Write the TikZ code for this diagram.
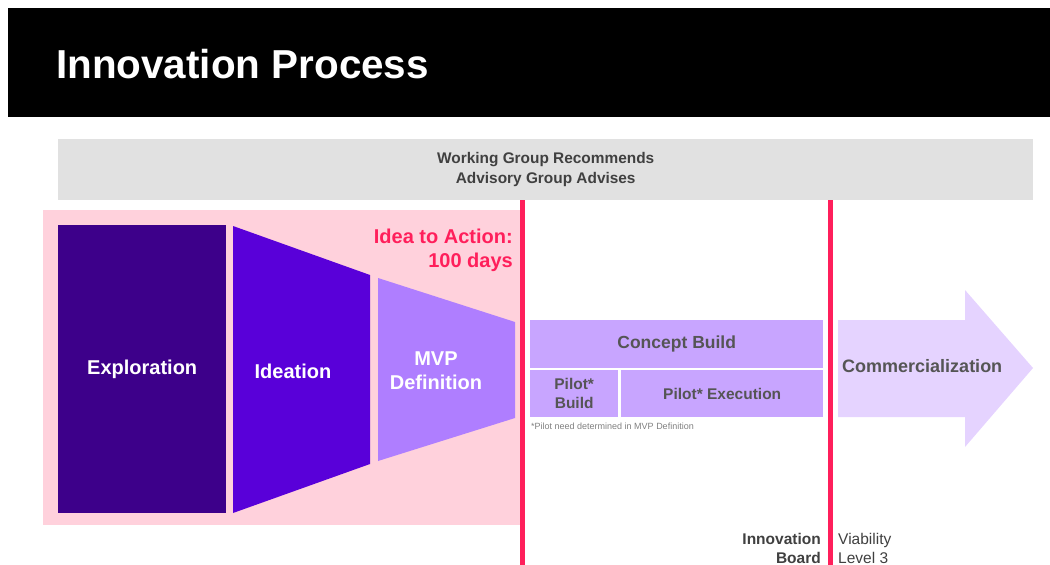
\documentclass[tikz,border=0pt]{standalone}
\usepackage{fontspec}
\setmainfont{Liberation Sans}
\usetikzlibrary{positioning}
\definecolor{zonepink}{HTML}{FFD1DC}
\definecolor{gatered}{HTML}{FF1F5B}
\definecolor{explorecol}{HTML}{3D008A}
\definecolor{ideatecol}{HTML}{5900D9}
\definecolor{mvpcol}{HTML}{AF7EFF}
\definecolor{conceptcol}{HTML}{C8A5FF}
\definecolor{commcol}{HTML}{E5D3FF}
\definecolor{bannergray}{HTML}{E1E1E1}
\definecolor{inkgray}{HTML}{404040}
\definecolor{boxink}{HTML}{555555}

\begin{document}
\begin{tikzpicture}[x=1pt, y=-1pt,
    stage/.style={anchor=north west, inner sep=0pt, text=white, align=center, font=\fontsize{20}{24}\selectfont\bfseries},
    stagetxt/.style={inner sep=0pt, text=white, align=center, font=\fontsize{20}{24}\selectfont\bfseries},
    build/.style={anchor=north west, inner sep=0pt, fill=conceptcol, text=boxink, align=center, font=\fontsize{15.5}{19}\selectfont\bfseries},
    banner/.style={anchor=north west, inner sep=0pt, fill=bannergray, text=inkgray, align=center, font=\fontsize{15.4}{20}\selectfont\bfseries},
    gate/.style={gatered, line width=5pt},
    note/.style={inner sep=0pt, text=inkgray, font=\fontsize{15.5}{19}\selectfont}
  ]
  \useasboundingbox (0,0) rectangle (1050,565);

  % header bar
  \fill[black] (8,8) rectangle (1050,117);
  \node[anchor=base west, inner sep=0pt, text=white, font=\fontsize{40.4}{48}\selectfont\bfseries] (title) at (56,78) {Innovation Process};

  % groups across the top
  \node[banner, minimum width=975pt, minimum height=61pt] (groups) at (58,139) {Working Group Recommends\\Advisory Group Advises};

  % idea to action zone
  \fill[zonepink] (43,210) rectangle (522,525);
  \node[stage, fill=explorecol, minimum width=168pt, minimum height=288pt] (explore) at (58,225) {Exploration};
  \fill[ideatecol] (233,226) -- (370,275) -- (370,464) -- (233,513) -- cycle;
  \node[stagetxt] (ideate) at (293,371) {Ideation};
  \fill[mvpcol] (378,278) -- (515,322) -- (515,418) -- (378,461) -- cycle;
  \node[stagetxt] (mvp) at (436,371) {MVP\\Definition};
  \node[anchor=north east, inner sep=0pt, text=gatered, align=right, font=\fontsize{20}{24}\selectfont\bfseries] (hundred) at (513,229) {Idea to Action:\\100 days};

  % concept and pilot
  \node[build, minimum width=293pt, minimum height=48pt, font=\fontsize{17.5}{21}\selectfont\bfseries] (concept) at (530,320) {Concept Build};
  \node[build, minimum width=88pt, minimum height=47pt] (pbuild) at (530,370) {Pilot*\\Build};
  \node[build, minimum width=202pt, minimum height=47pt] (pexec) at (621,370) {Pilot* Execution};
  \node[anchor=west, inner sep=0pt, text=gray, font=\fontsize{9}{11}\selectfont] (pnote) at (531,426) {*Pilot need determined in MVP Definition};

  % commercialization arrow
  \fill[commcol] (838,320) -- (965,320) -- (965,290) -- (1033,368) -- (965,447) -- (965,417) -- (838,417) -- cycle;
  \node[anchor=west, inner sep=0pt, text=boxink, font=\fontsize{18}{21}\selectfont\bfseries] (comm) at (842,366) {Commercialization};

  % decision gates
  \draw[gate] (522,200) -- (522,565);
  \draw[gate] (830,200) -- (830,565);
  \node[note, anchor=east, align=right, font=\fontsize{15.5}{19}\selectfont\bfseries] (board) at (821,548) {Innovation\\Board};
  \node[note, anchor=west, align=left] (viab) at (838,548) {Viability\\Level 3};
\end{tikzpicture}
\end{document}
